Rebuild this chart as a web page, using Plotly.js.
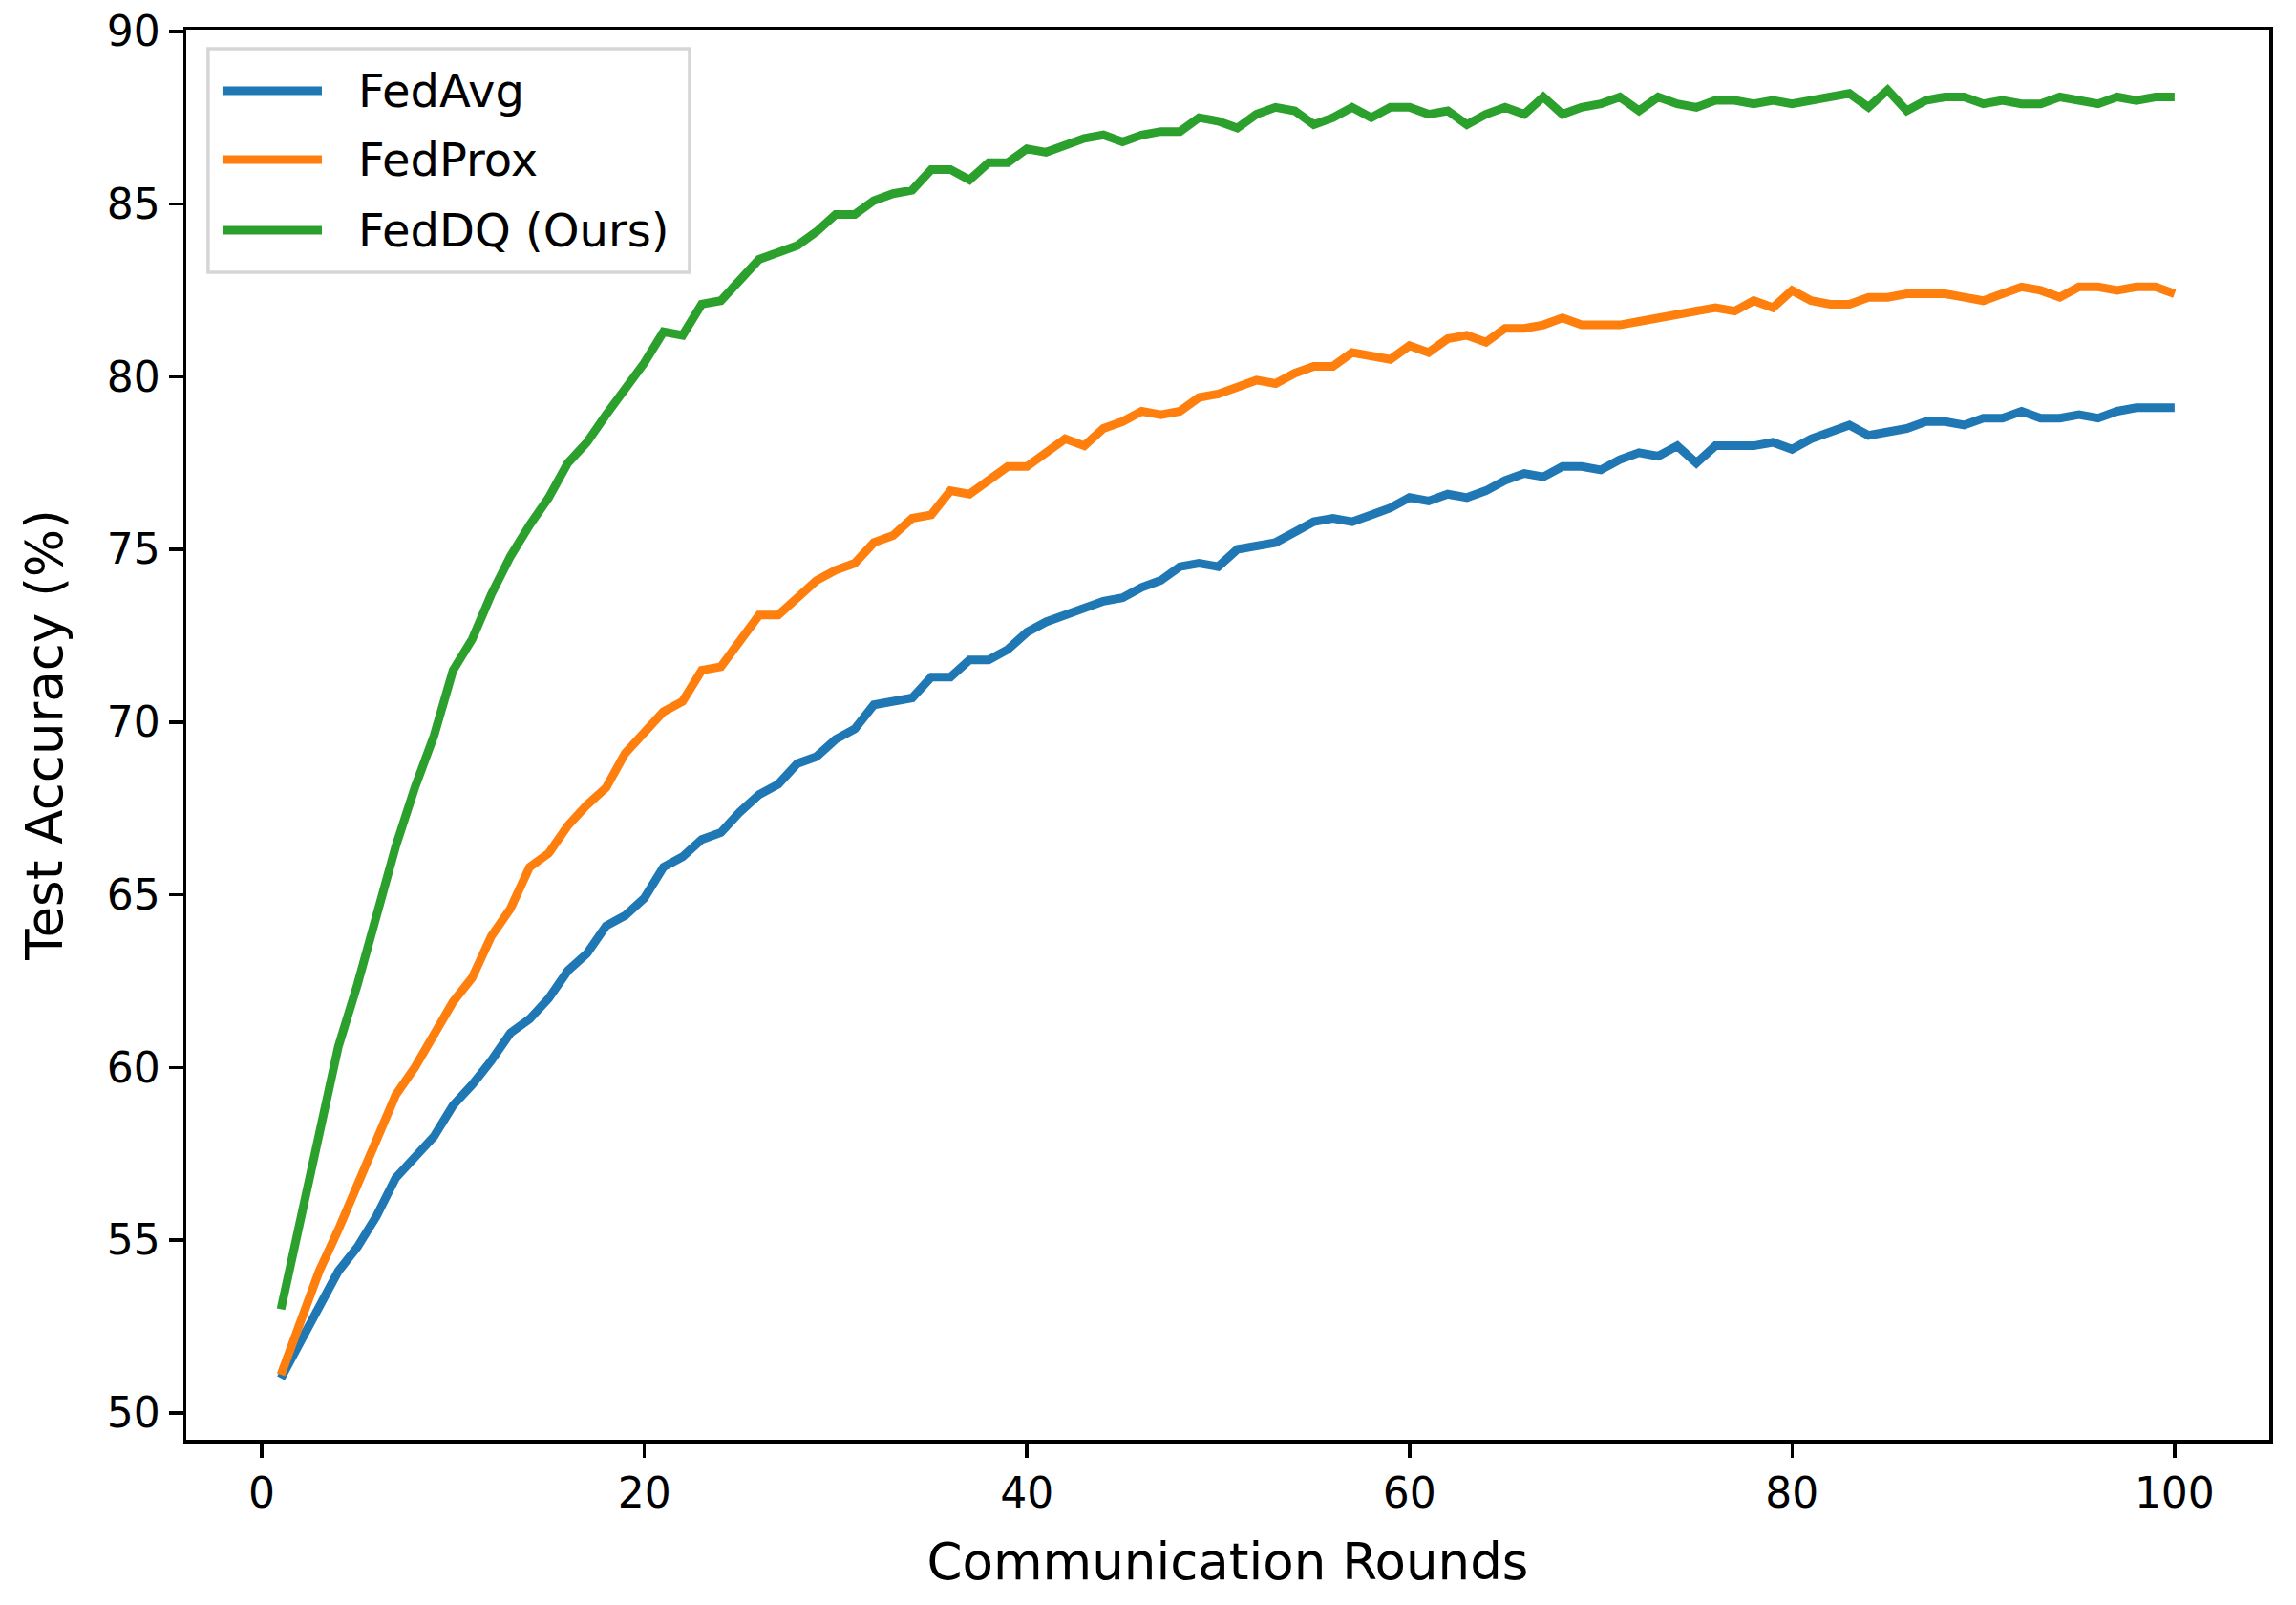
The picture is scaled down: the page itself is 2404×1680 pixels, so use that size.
<!DOCTYPE html>
<html>
<head>
<meta charset="utf-8">
<script src="https://cdn.plot.ly/plotly-3.0.1.min.js"></script>
<style>
html,body{margin:0;padding:0;background:#fff;}
#chart{width:2404px;height:1680px;}
</style>
</head>
<body>
<div id="chart"></div>
<script>
const rounds = Array.from({length: 100}, (_, i) => i + 1);

const seriesNames = ["FedAvg", "FedProx", "FedDQ (Ours)"];
const seriesColors = ["#1f77b4", "#ff7f0e", "#2ca02c"];

const fedAvg = [
  51.0, 52.0, 53.1, 54.1, 54.8, 55.7, 56.8, 57.4, 58.0, 58.9,
  59.5, 60.2, 61.0, 61.4, 62.0, 62.8, 63.3, 64.1, 64.4, 64.9,
  65.8, 66.1, 66.6, 66.8, 67.4, 67.9, 68.2, 68.8, 69.0, 69.5,
  69.8, 70.5, 70.6, 70.7, 71.3, 71.3, 71.8, 71.8, 72.1, 72.6,
  72.9, 73.1, 73.3, 73.5, 73.6, 73.9, 74.1, 74.5, 74.6, 74.5,
  75.0, 75.1, 75.2, 75.5, 75.8, 75.9, 75.8, 76.0, 76.2, 76.5,
  76.4, 76.6, 76.5, 76.7, 77.0, 77.2, 77.1, 77.4, 77.4, 77.3,
  77.6, 77.8, 77.7, 78.0, 77.5, 78.0, 78.0, 78.0, 78.1, 77.9,
  78.2, 78.4, 78.6, 78.3, 78.4, 78.5, 78.7, 78.7, 78.6, 78.8,
  78.8, 79.0, 78.8, 78.8, 78.9, 78.8, 79.0, 79.1, 79.1, 79.1
];

const fedProx = [
  51.1, 52.6, 54.1, 55.3, 56.6, 57.9, 59.2, 60.0, 61.0, 61.9,
  62.6, 63.8, 64.6, 65.8, 66.2, 67.0, 67.6, 68.1, 69.1, 69.7,
  70.3, 70.6, 71.5, 71.6, 72.4, 73.1, 73.1, 73.6, 74.1, 74.4,
  74.6, 75.2, 75.4, 75.9, 76.0, 76.7, 76.6, 77.0, 77.4, 77.4,
  77.8, 78.2, 78.0, 78.5, 78.7, 79.0, 78.9, 79.0, 79.4, 79.5,
  79.7, 79.9, 79.8, 80.1, 80.3, 80.3, 80.7, 80.6, 80.5, 80.9,
  80.7, 81.1, 81.2, 81.0, 81.4, 81.4, 81.5, 81.7, 81.5, 81.5,
  81.5, 81.6, 81.7, 81.8, 81.9, 82.0, 81.9, 82.2, 82.0, 82.5,
  82.2, 82.1, 82.1, 82.3, 82.3, 82.4, 82.4, 82.4, 82.3, 82.2,
  82.4, 82.6, 82.5, 82.3, 82.6, 82.6, 82.5, 82.6, 82.6, 82.4
];

const fedDQ = [
  53.0, 55.6, 58.2, 60.6, 62.4, 64.4, 66.4, 68.1, 69.6, 71.5,
  72.4, 73.7, 74.8, 75.7, 76.5, 77.5, 78.1, 78.9, 79.6, 80.4,
  81.3, 81.2, 82.1, 82.2, 82.8, 83.4, 83.6, 83.8, 84.2, 84.7,
  84.7, 85.1, 85.3, 85.4, 86.0, 86.0, 85.7, 86.2, 86.2, 86.6,
  86.5, 86.7, 86.9, 87.0, 86.8, 87.0, 87.1, 87.1, 87.5, 87.4,
  87.2, 87.6, 87.8, 87.7, 87.3, 87.5, 87.8, 87.5, 87.8, 87.8,
  87.6, 87.7, 87.3, 87.6, 87.8, 87.6, 88.1, 87.6, 87.8, 87.9,
  88.1, 87.7, 88.1, 87.9, 87.8, 88.0, 88.0, 87.9, 88.0, 87.9,
  88.0, 88.1, 88.2, 87.8, 88.3, 87.7, 88.0, 88.1, 88.1, 87.9,
  88.0, 87.9, 87.9, 88.1, 88.0, 87.9, 88.1, 88.0, 88.1, 88.1
];

const xTicks = [0, 20, 40, 60, 80, 100];
const yTicks = [50, 55, 60, 65, 70, 75, 80, 85, 90];

const allSeries = [fedAvg, fedProx, fedDQ];

const FONT = "DejaVu Sans, Liberation Sans, sans-serif";
const LW = 9;

const traces = allSeries.map((ys, i) => ({
  type: "scatter",
  mode: "lines",
  x: rounds,
  y: ys,
  name: seriesNames[i],
  line: {color: seriesColors[i], width: LW},
  showlegend: false
}));

// Custom legend (matplotlib style) in paper coordinates
const legX0 = 0.0105, legX1 = 0.2416, legY0 = 0.8279, legY1 = 0.9864;
const rowY = [0.9566, 0.9079, 0.8577];
const shapes = [{
  type: "rect", xref: "paper", yref: "paper",
  x0: legX0, x1: legX1, y0: legY0, y1: legY1,
  line: {color: "#d6d6d6", width: 3.5},
  fillcolor: "rgba(255,255,255,0.8)",
  layer: "above"
}];
const annotations = [];
seriesNames.forEach((nm, i) => {
  shapes.push({
    type: "line", xref: "paper", yref: "paper",
    x0: 0.0174, x1: 0.0651, y0: rowY[i], y1: rowY[i],
    line: {color: seriesColors[i], width: LW},
    layer: "above"
  });
  annotations.push({
    xref: "paper", yref: "paper", x: 0.0815, y: rowY[i],
    xanchor: "left", yanchor: "middle", showarrow: false,
    text: nm, font: {family: FONT, size: 48, color: "#000"}
  });
});

const layout = {
  width: 2404, height: 1680,
  paper_bgcolor: "#fff", plot_bgcolor: "#fff",
  margin: {l: 195, r: 28, t: 31, b: 173, pad: 0},
  font: {family: FONT, color: "#000"},
  xaxis: {
    range: [-3.95, 104.95],
    tickmode: "array", tickvals: xTicks, ticktext: xTicks.map(String),
    ticks: "outside", ticklen: 15, tickwidth: 3.5, tickcolor: "#000",
    tickfont: {family: FONT, size: 44, color: "#000"},
    showgrid: false, zeroline: false,
    showline: true, linecolor: "#000", linewidth: 3.5, mirror: true,
    title: {text: "Communication Rounds", font: {family: FONT, size: 53, color: "#000"}, standoff: 29},
    automargin: false
  },
  yaxis: {
    range: [49.22, 90.05],
    tickmode: "array", tickvals: yTicks, ticktext: yTicks.map(String),
    ticks: "outside", ticklen: 15, tickwidth: 3.5, tickcolor: "#000",
    tickfont: {family: FONT, size: 44, color: "#000"},
    showgrid: false, zeroline: false,
    showline: true, linecolor: "#000", linewidth: 3.5, mirror: true,
    title: {text: "Test Accuracy (%)", font: {family: FONT, size: 53, color: "#000"}, standoff: 30},
    automargin: false
  },
  shapes: shapes,
  annotations: annotations,
  showlegend: false
};

Plotly.newPlot("chart", traces, layout, {staticPlot: true, displayModeBar: false});
</script>
</body>
</html>
